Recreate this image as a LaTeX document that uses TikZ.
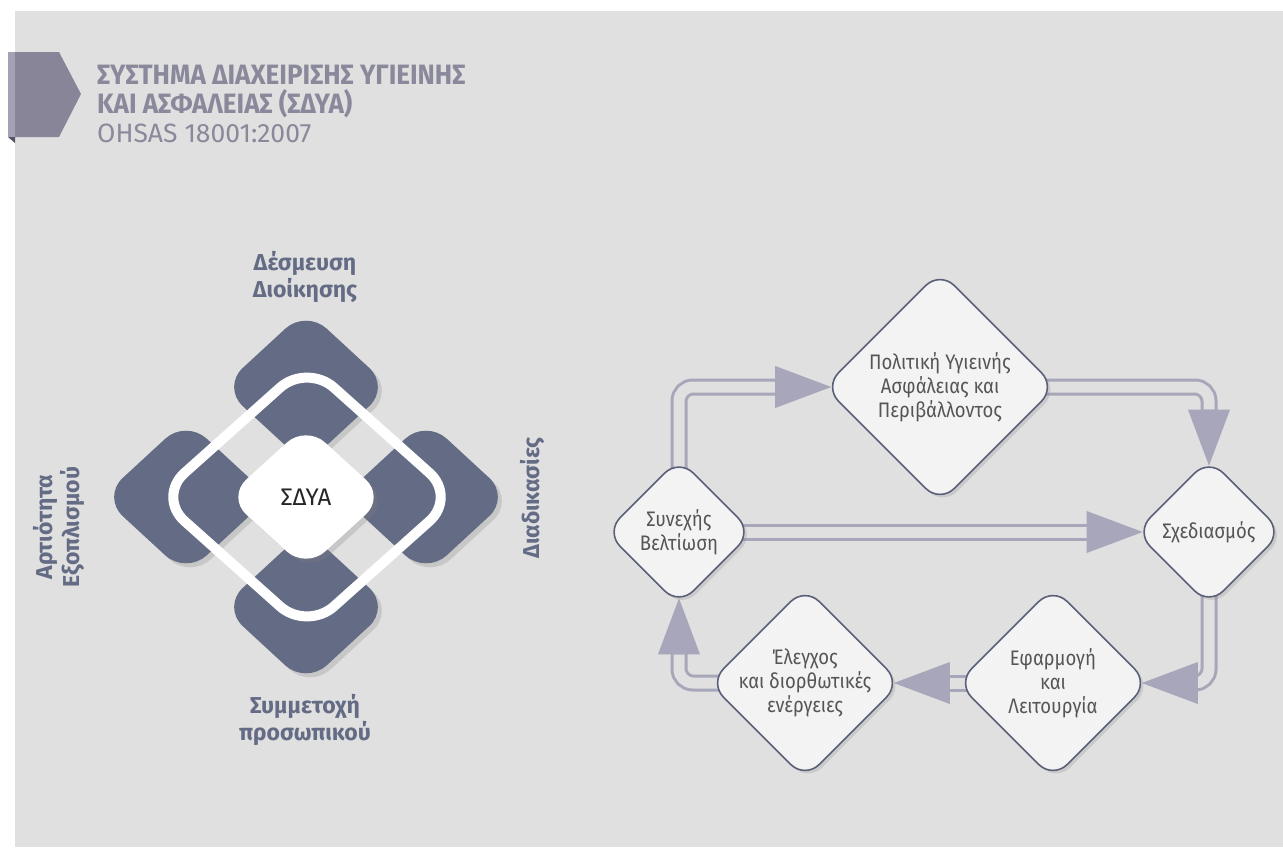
\documentclass[tikz,border=0pt]{standalone}
\usepackage{fontspec}
\setmainfont{Fira Sans}
\newfontfamily\ttlbold[FakeStretch=0.93]{Fira Sans}
\newfontfamily\ttllight{Fira Sans}
\newfontfamily\stagefont[FakeStretch=0.88]{Fira Sans}
\usetikzlibrary{shapes.geometric,arrows.meta,shadows}
\pgfdeclarelayer{back}
\pgfdeclarelayer{pipes}
\pgfsetlayers{back,pipes,main}
\definecolor{bgc}{HTML}{DFE0DF}
\definecolor{dk}{HTML}{646B85}
\definecolor{arrc}{HTML}{A8A6BA}
\definecolor{ttlc}{HTML}{8A889B}
\definecolor{tabc}{HTML}{878597}
\definecolor{stripc}{HTML}{A3A1B5}
\definecolor{foldc}{HTML}{55546A}
\definecolor{bordc}{HTML}{5B6079}
\definecolor{nfill}{HTML}{F3F3F3}
\definecolor{txtc}{HTML}{555555}
\tikzset{
  pillar/.style={diamond, fill=dk, minimum width=168pt, minimum height=155pt,
    inner sep=-30pt, rounded corners=28pt,
    drop shadow={shadow xshift=4pt, shadow yshift=-4pt, opacity=0.25}},
  side/.style={text=dk, font=\bfseries\fontsize{23}{27}\selectfont, align=center, inner sep=0pt},
  stage/.style={diamond, draw=bordc, line width=1.6pt, fill=nfill, inner sep=-40pt,
    rounded corners=20pt, text=txtc, align=center,
    font=\stagefont\fontsize{21}{24}\selectfont,
    drop shadow={shadow xshift=3pt, shadow yshift=-3pt, opacity=0.22}},
  flow/.style={draw=bgc, line width=11pt, rounded corners=14pt,
    shorten <=-12pt, shorten >=-8pt,
    -{Triangle[length=56pt, width=42pt, color=arrc, line width=0pt]},
    preaction={draw=arrc, line width=17pt, shorten >=44pt, -}}
}
\begin{document}
\begin{tikzpicture}[x=1pt, y=-1pt]
\useasboundingbox (0,0) rectangle (1283,847);
\begin{pgfonlayer}{back}
\fill[white] (0,0) rectangle (1283,847);
\fill[bgc] (15,11) rectangle (1283,847);
\end{pgfonlayer}
% header tab
\fill[stripc] (8,52) rectangle (15,137);
\fill[foldc] (8,137) -- (15,137) -- (15,143) -- cycle;
\fill[tabc] (15,52) -- (59,52) -- (81,94) -- (59,137) -- (15,137) -- cycle;
\node[anchor=north west, align=left, inner sep=0pt, text=ttlc,
  font=\fontsize{28}{29}\selectfont] (ttl) at (97,65)
  {{\ttlbold\bfseries ΣΥΣΤΗΜΑ ΔΙΑΧΕΙΡΙΣΗΣ ΥΓΙΕΙΝΗΣ}\\{\ttlbold\bfseries ΚΑΙ ΑΣΦΑΛΕΙΑΣ (ΣΔΥΑ)}\\{\ttllight\fontsize{26.5}{29}\selectfont OHSAS 18001:2007}};
% left figure
\node[pillar] (ptop) at (306,387) {};
\node[pillar] (pleft) at (186,497) {};
\node[pillar] (pright) at (426,497) {};
\node[pillar] (pbot) at (306,607) {};
\node[diamond, draw=white, line width=10pt, minimum width=303pt, minimum height=271pt,
  inner sep=-60pt, rounded corners=36pt] (ring) at (307,497) {};
\node[diamond, fill=white, minimum width=158pt, minimum height=144pt, inner sep=-30pt,
  rounded corners=26pt, font=\fontsize{24}{26}\selectfont, text=black!85,
  drop shadow={shadow xshift=4pt, shadow yshift=-4pt, opacity=0.25}] (sdya) at (306,497) {ΣΔΥΑ};
\node[side] (lbtop) at (305,277) {Δέσμευση\\Διοίκησης};
\node[side] (lbbot) at (305,720) {Συμμετοχή\\προσωπικού};
\node[side, rotate=90] (lbright) at (532,498) {Διαδικασίες};
\node[side, rotate=90] (lbleft) at (59,527) {Αρτιότητα\\Εξοπλισμού};
% cycle
\node[stage, minimum size=232pt] (pol) at (940,387) {Πολιτική Υγιεινής\\Ασφάλειας και\\Περιβάλλοντος};
\node[stage, minimum size=147pt] (sv) at (679,532) {Συνεχής\\Βελτίωση};
\node[stage, minimum size=147pt] (sch) at (1209,532) {Σχεδιασμός};
\node[stage, minimum size=192pt] (efa) at (1053,683) {Εφαρμογή\\και\\Λειτουργία};
\node[stage, minimum size=192pt] (ele) at (805,683) {Έλεγχος\\και διορθωτικές\\ενέργειες};
\begin{pgfonlayer}{pipes}
\draw[flow] (sv.north) |- (pol.west);
\draw[flow] (pol.east) -| (sch.north);
\draw[flow] (sv.east) -- (sch.west);
\draw[flow] (sch.south) |- (efa.east);
\draw[flow] (efa.west) -- (ele.east);
\draw[flow] (ele.west) -| (sv.south);
\end{pgfonlayer}
\end{tikzpicture}
\end{document}
